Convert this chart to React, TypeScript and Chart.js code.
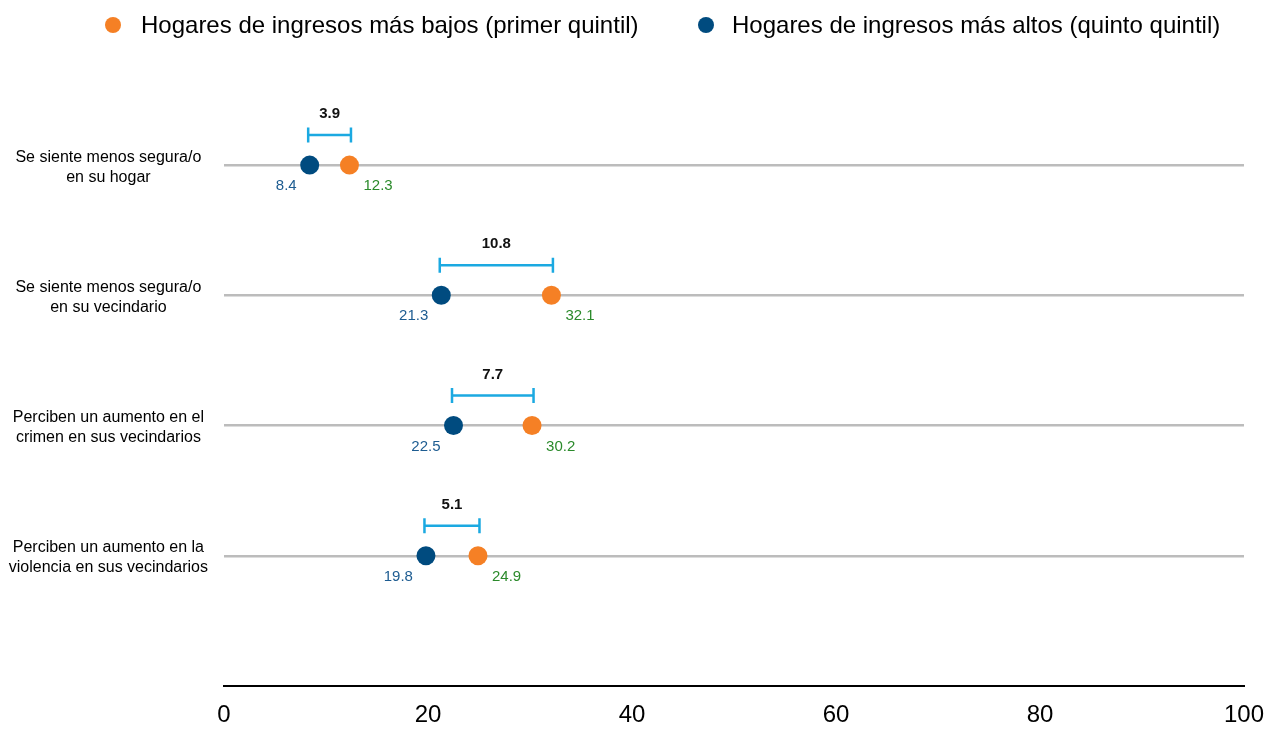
import React, { useEffect, useRef } from "react";
import { Chart, registerables } from "chart.js";

Chart.register(...registerables);

const categories: string[][] = [
  ["Se siente menos segura/o", "en su hogar"],
  ["Se siente menos segura/o", "en su vecindario"],
  ["Perciben un aumento en el", "crimen en sus vecindarios"],
  ["Perciben un aumento en la", "violencia en sus vecindarios"],
];
const lowIncome: number[] = [12.3, 32.1, 30.2, 24.9];
const highIncome: number[] = [8.4, 21.3, 22.5, 19.8];
const gapLabels: string[] = ["3.9", "10.8", "7.7", "5.1"];
const xTicks: number[] = [0, 20, 40, 60, 80, 100];
const legendLabels: string[] = [
  "Hogares de ingresos más bajos (primer quintil)",
  "Hogares de ingresos más altos (quinto quintil)",
];

const ORANGE = "#f58025";
const BLUE = "#004b7f";
const BLUE_TEXT = "#1d5c91";
const GREEN_TEXT = "#2b8a2b";
const BRACKET = "#1ba9e1";
const FONT = '"Liberation Sans", Arial, Helvetica, sans-serif';

const rowValue = (i: number) => categories.length - i;

const annotations = {
  id: "dumbbellAnnotations",
  afterDatasetsDraw(chart: any) {
    const { ctx, scales } = chart;
    const xs = scales.x;
    const ys = scales.y;
    ctx.save();
    categories.forEach((_, i) => {
      const y = ys.getPixelForValue(rowValue(i));
      const xb = xs.getPixelForValue(highIncome[i]);
      const xo = xs.getPixelForValue(lowIncome[i]);
      // bracket
      const by = y - 30;
      const l = Math.min(xb, xo) - 1.5;
      const r = Math.max(xb, xo) + 1.5;
      ctx.strokeStyle = BRACKET;
      ctx.lineWidth = 2.5;
      ctx.beginPath();
      ctx.moveTo(l, by);
      ctx.lineTo(r, by);
      ctx.moveTo(l, by - 7.5);
      ctx.lineTo(l, by + 7.5);
      ctx.moveTo(r, by - 7.5);
      ctx.lineTo(r, by + 7.5);
      ctx.stroke();
      // gap label
      ctx.fillStyle = "#111";
      ctx.font = `bold 15px ${FONT}`;
      ctx.textAlign = "center";
      ctx.textBaseline = "middle";
      ctx.fillText(gapLabels[i], (l + r) / 2, y - 51);
      // value labels
      ctx.font = `15px ${FONT}`;
      ctx.fillStyle = BLUE_TEXT;
      ctx.textAlign = "right";
      ctx.fillText(String(highIncome[i]), xb - 13, y + 21);
      ctx.fillStyle = GREEN_TEXT;
      ctx.textAlign = "left";
      ctx.fillText(String(lowIncome[i]), xo + 14, y + 21);
    });
    ctx.restore();
  },
};

export default function App() {
  const canvasRef = useRef<HTMLCanvasElement | null>(null);

  useEffect(() => {
    if (!canvasRef.current) return;
    Chart.defaults.font.family = FONT;
    const chart = new Chart(canvasRef.current, {
      type: "scatter",
      data: {
        datasets: [
          {
            label: legendLabels[0],
            data: lowIncome.map((v, i) => ({ x: v, y: rowValue(i) })),
            backgroundColor: ORANGE,
            borderWidth: 0,
            pointRadius: 9.5,
            pointHoverRadius: 9.5,
          },
          {
            label: legendLabels[1],
            data: highIncome.map((v, i) => ({ x: v, y: rowValue(i) })),
            backgroundColor: BLUE,
            borderWidth: 0,
            pointRadius: 9.5,
            pointHoverRadius: 9.5,
          },
        ],
      },
      options: {
        responsive: false,
        animation: false,
        layout: { padding: { top: 100, right: 25, bottom: 0, left: 0 } },
        plugins: {
          legend: { display: false },
          tooltip: { enabled: false },
        },
        scales: {
          x: {
            type: "linear",
            min: 0,
            max: 100,
            afterBuildTicks: (scale: any) => {
              scale.ticks = xTicks.map((v) => ({ value: v }));
            },
            afterFit: (scale: any) => {
              scale.height = 43;
              scale.paddingRight = 0;
              scale.paddingLeft = 0;
            },
            grid: { display: false, drawTicks: false },
            border: { display: true, color: "#000", width: 2 },
            ticks: {
              padding: 15,
              color: "#000",
              font: { size: 24, family: FONT },
            },
          },
          y: {
            type: "linear",
            min: 0,
            max: 4.5,
            afterFit: (scale: any) => {
              scale.width = 224;
            },
            afterBuildTicks: (scale: any) => {
              scale.ticks = categories.map((_, i) => ({ value: rowValue(i) }));
            },
            grid: { color: "#bcbcbc", lineWidth: 2.5, drawTicks: false },
            border: { display: false },
            ticks: {
              padding: 16,
              labelOffset: 2,
              crossAlign: "center",
              color: "#000",
              font: { size: 16, family: FONT, lineHeight: 1.25 },
              callback: (value: any) => {
                const i = categories.length - Number(value);
                return categories[i] ?? "";
              },
            },
          },
        },
      },
      plugins: [annotations],
    } as any);
    return () => chart.destroy();
  }, []);

  const legendItem = (dotX: number, textX: number, color: string, text: string) => (
    <React.Fragment key={text}>
      <span
        style={{
          position: "absolute",
          left: dotX - 8,
          top: 25 - 8,
          width: 16,
          height: 16,
          borderRadius: "50%",
          background: color,
        }}
      />
      <span
        style={{
          position: "absolute",
          left: textX,
          top: 11,
          height: 28,
          lineHeight: "28px",
          fontSize: 24,
          fontFamily: FONT,
          color: "#000",
          whiteSpace: "nowrap",
        }}
      >
        {text}
      </span>
    </React.Fragment>
  );

  return (
    <div
      style={{
        position: "fixed",
        left: 0,
        top: 0,
        width: 1269,
        height: 729,
        background: "#fff",
      }}
    >
      <canvas
        ref={canvasRef}
        width={1269}
        height={729}
        style={{ position: "absolute", left: 0, top: 0 }}
      />
      {legendItem(113, 141, ORANGE, legendLabels[0])}
      {legendItem(706, 732, BLUE, legendLabels[1])}
    </div>
  );
}
